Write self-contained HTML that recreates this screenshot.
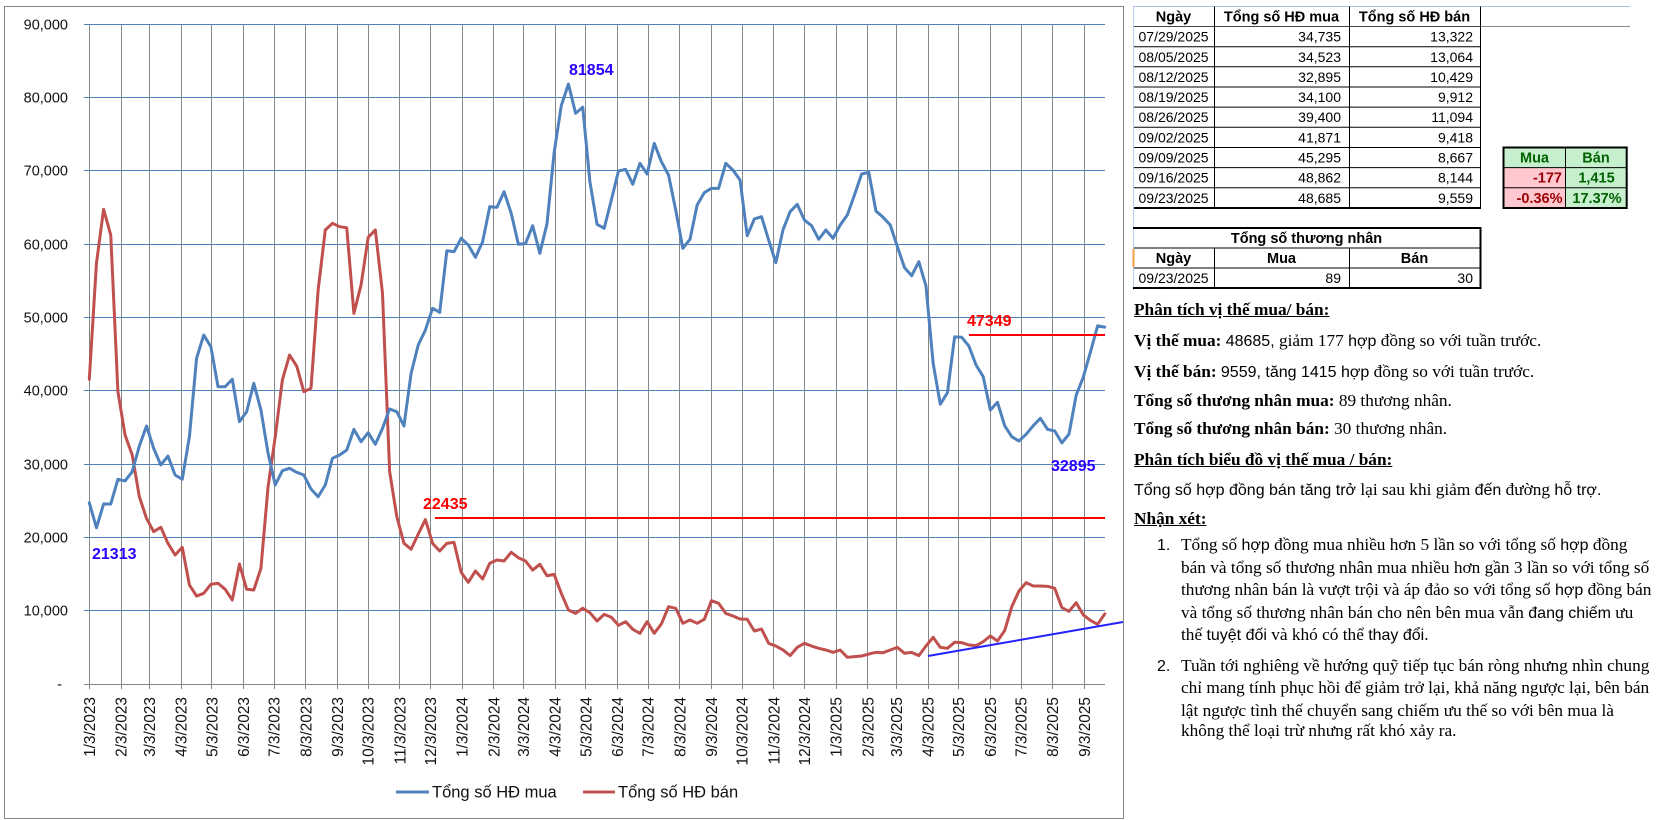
<!DOCTYPE html>
<html>
<head>
<meta charset="utf-8">
<style>
  html,body{margin:0;padding:0;background:#fff;}
  body{width:1668px;height:820px;position:relative;overflow:hidden;}
  svg{position:absolute;left:0;top:0;}
  .t{position:absolute;white-space:nowrap;font-family:"Liberation Serif","DejaVu Serif",serif;font-size:17.3px;line-height:20px;color:#000;}
  .t b{font-weight:bold;}
  .u{text-decoration:underline;font-weight:bold;}
  .s{font-family:"Liberation Sans","DejaVu Sans",sans-serif;font-size:16px;}
</style>
</head>
<body>
<svg width="1668" height="820" viewBox="0 0 1668 820" xmlns="http://www.w3.org/2000/svg">
  <!-- chart frame -->
  <rect x="4.5" y="6.5" width="1119" height="812" fill="#fff" stroke="#868686" stroke-width="1"/>

  <!-- horizontal gridlines -->
  <path d="M84 24.5H1105M84 97.5H1105M84 170.5H1105M84 244.5H1105M84 317.5H1105M84 390.5H1105M84 464.5H1105M84 537.5H1105M84 610.5H1105" stroke="#4F81BD" stroke-width="1" fill="none"/>

  <!-- vertical gridlines -->
  <path d="M89.5 24.3V689M121.5 24.3V689M149.5 24.3V689M181.5 24.3V689M211.5 24.3V689M243.5 24.3V689M274.5 24.3V689M305.5 24.3V689M337.5 24.3V689M368.5 24.3V689M399.5 24.3V689M430.5 24.3V689M462.5 24.3V689M493.5 24.3V689M523.5 24.3V689M555.5 24.3V689M585.5 24.3V689M617.5 24.3V689M648.5 24.3V689M679.5 24.3V689M711.5 24.3V689M742.5 24.3V689M773.5 24.3V689M804.5 24.3V689M836.5 24.3V689M867.5 24.3V689M896.5 24.3V689M928.5 24.3V689M958.5 24.3V689M990.5 24.3V689M1021.5 24.3V689M1052.5 24.3V689M1084.5 24.3V689" stroke="#868686" stroke-width="1" fill="none"/>
  <!-- x axis -->
  <path d="M84 684.5H1105" stroke="#868686" stroke-width="1"/>

  <!-- y labels -->
  <g font-family="'Liberation Sans',Arial,sans-serif" font-size="14.5" fill="#111" text-anchor="end">
    <text x="68" y="29.5">90,000</text>
    <text x="68" y="102.5">80,000</text>
    <text x="68" y="175.5">70,000</text>
    <text x="68" y="249.5">60,000</text>
    <text x="68" y="322.5">50,000</text>
    <text x="68" y="395.5">40,000</text>
    <text x="68" y="469.5">30,000</text>
    <text x="68" y="542.5">20,000</text>
    <text x="68" y="615.5">10,000</text>
    <text x="62" y="689">-</text>
  </g>

  <!-- x labels -->
  <g font-family="'Liberation Sans',Arial,sans-serif" font-size="15.4" fill="#111" text-anchor="end">
    <text transform="translate(94.8,697) rotate(-90)">1/3/2023</text>
    <text transform="translate(126.5,697) rotate(-90)">2/3/2023</text>
    <text transform="translate(155.1,697) rotate(-90)">3/3/2023</text>
    <text transform="translate(186.7,697) rotate(-90)">4/3/2023</text>
    <text transform="translate(217.4,697) rotate(-90)">5/3/2023</text>
    <text transform="translate(249.1,697) rotate(-90)">6/3/2023</text>
    <text transform="translate(279.7,697) rotate(-90)">7/3/2023</text>
    <text transform="translate(311.4,697) rotate(-90)">8/3/2023</text>
    <text transform="translate(343,697) rotate(-90)">9/3/2023</text>
    <text transform="translate(373.7,697) rotate(-90)">10/3/2023</text>
    <text transform="translate(405.4,697) rotate(-90)">11/3/2023</text>
    <text transform="translate(436,697) rotate(-90)">12/3/2023</text>
    <text transform="translate(467.7,697) rotate(-90)">1/3/2024</text>
    <text transform="translate(499.3,697) rotate(-90)">2/3/2024</text>
    <text transform="translate(529,697) rotate(-90)">3/3/2024</text>
    <text transform="translate(560.7,697) rotate(-90)">4/3/2024</text>
    <text transform="translate(591.3,697) rotate(-90)">5/3/2024</text>
    <text transform="translate(623,697) rotate(-90)">6/3/2024</text>
    <text transform="translate(653.6,697) rotate(-90)">7/3/2024</text>
    <text transform="translate(685.3,697) rotate(-90)">8/3/2024</text>
    <text transform="translate(716.9,697) rotate(-90)">9/3/2024</text>
    <text transform="translate(747.6,697) rotate(-90)">10/3/2024</text>
    <text transform="translate(779.3,697) rotate(-90)">11/3/2024</text>
    <text transform="translate(809.9,697) rotate(-90)">12/3/2024</text>
    <text transform="translate(841.6,697) rotate(-90)">1/3/2025</text>
    <text transform="translate(873.3,697) rotate(-90)">2/3/2025</text>
    <text transform="translate(901.8,697) rotate(-90)">3/3/2025</text>
    <text transform="translate(933.5,697) rotate(-90)">4/3/2025</text>
    <text transform="translate(964.2,697) rotate(-90)">5/3/2025</text>
    <text transform="translate(995.8,697) rotate(-90)">6/3/2025</text>
    <text transform="translate(1026.5,697) rotate(-90)">7/3/2025</text>
    <text transform="translate(1058.2,697) rotate(-90)">8/3/2025</text>
    <text transform="translate(1089.8,697) rotate(-90)">9/3/2025</text>
  </g>

  <!-- series -->
  <g transform="translate(89.3,684) scale(7.1512,-0.00733)">
    <polyline vector-effect="non-scaling-stroke" fill="none" stroke="#C0504D" stroke-width="3" stroke-linejoin="round" stroke-linecap="round"
      points="0,41570 1,57390 2,64760 3,61250 4,39880 5,33970 6,31240 7,25550 8,22600 9,20780 10,21380 11,19190 12,17600 13,18650 14,13510 15,12000 16,12370 17,13600 18,13740 19,12920 20,11460 21,16370 22,12920 23,12820 24,15780 25,26920 26,33740 27,41470 28,44880 29,43380 30,39880 31,40340 32,53750 33,61940 34,62850 35,62390 36,62250 37,50570 38,54430 39,60940 40,61940 41,53300 42,28960 43,22830 44,19190 45,18380 46,20460 47,22435 48,19190 49,18140 50,19190 51,19330 52,15240 53,13870 54,15420 55,14320 56,16470 57,16920 58,16780 59,17970 60,17230 61,16780 62,15550 63,16330 64,14770 65,14960 66,12370 67,10100 68,9640 69,10330 70,9730 71,8600 72,9500 73,9100 74,8010 75,8500 76,7460 77,6920 78,8500 79,6920 80,8190 81,10550 82,10330 83,8280 84,8730 85,8280 86,8830 87,11370 88,11010 89,9640 90,9280 91,8870 92,8830 93,7230 94,7500 95,5550 96,5180 97,4640 98,3870 99,5000 100,5550 101,5180 102,4870 103,4640 104,4320 105,4640 106,3640 107,3730 108,3820 109,4090 110,4320 111,4270 112,4640 113,5000 114,4190 115,4320 116,3870 117,5180 118,6370 119,5000 120,4870 121,5690 122,5640 123,5320 124,5230 125,5780 126,6550 127,5870 128,7280 129,10550 130,12690 131,13820 132,13370 133,13370 134,13322 135,13064 136,10429 137,9912 138,11094 139,9418 140,8667 141,8144 142,9559"/>
    <polyline vector-effect="non-scaling-stroke" fill="none" stroke="#4F81BD" stroke-width="3" stroke-linejoin="round" stroke-linecap="round"
      points="0,24734 1,21313 2,24556 3,24556 4,27925 5,27700 6,28970 7,32470 8,35200 9,32150 10,29880 11,31100 12,28510 13,27930 14,33740 15,44430 16,47600 17,46020 18,40560 19,40560 20,41570 21,35790 22,37150 23,41020 24,37380 25,31470 26,27150 27,29100 28,29430 29,28880 30,28510 31,26600 32,25550 33,27150 34,30790 35,31240 36,31920 37,34740 38,33060 39,34290 40,32700 41,34880 42,37520 43,37150 44,35200 45,42380 46,46250 47,48300 48,51250 49,50700 50,59110 51,58980 52,60800 53,59890 54,58210 55,60340 56,65120 57,65030 58,67160 59,64210 60,59990 61,60080 62,62520 63,58760 64,62760 65,72500 66,78900 67,81854 68,77860 69,78680 70,68530 71,62710 72,62170 73,66030 74,69990 75,70210 76,68170 77,71030 78,69580 79,73760 80,71260 81,69440 82,64670 83,59440 84,60670 85,65350 86,67030 87,67620 88,67620 89,71030 90,70120 91,68760 92,61160 93,63440 94,63750 95,60570 96,57480 97,61940 98,64440 99,65440 100,63300 101,62530 102,60670 103,61940 104,60800 105,62620 106,63980 107,66710 108,69580 109,69810 110,64530 111,63670 112,62620 113,59660 114,56800 115,55700 116,57610 117,54300 118,43750 119,38160 120,39740 121,47349 122,47300 123,46110 124,43520 125,41930 126,37380 127,38430 128,35240 129,33740 130,33150 131,34060 132,35240 133,36250 134,34735 135,34523 136,32895 137,34100 138,39400 139,41871 140,45295 141,48862 142,48685"/>
  </g>

  <!-- annotation lines -->
  <path d="M435 518H1105" stroke="#FF0000" stroke-width="2"/>
  <path d="M969 335H1105" stroke="#FF0000" stroke-width="2"/>
  <path d="M928 656L1123 622" stroke="#2222FF" stroke-width="2"/>

  <!-- annotation labels -->
  <g font-family="'Liberation Sans',Arial,sans-serif" font-size="16" font-weight="bold">
    <text x="569" y="75" fill="#2a00ff">81854</text>
    <text x="92" y="559" fill="#2a00ff">21313</text>
    <text x="1051" y="471" fill="#2a00ff">32895</text>
    <text x="423" y="509" fill="#FF0000">22435</text>
    <text x="967" y="326" fill="#FF0000">47349</text>
  </g>

  <!-- legend -->
  <path d="M396 792H429" stroke="#4F81BD" stroke-width="3"/>
  <text x="432" y="797.5" font-family="'Liberation Sans',Arial,sans-serif" font-size="16.5" fill="#111">Tổng số HĐ mua</text>
  <path d="M583 792H615" stroke="#C0504D" stroke-width="3"/>
  <text x="618" y="797.5" font-family="'Liberation Sans',Arial,sans-serif" font-size="16.5" fill="#111">Tổng số HĐ bán</text>

  <!-- ===== Table 1 ===== -->
  <path d="M1133 6.5H1630" stroke="#a9c1e3" stroke-width="1"/>
  <path d="M1133.5 6V290" stroke="#b9cce8" stroke-width="1"/>
  <path d="M1480 26.5H1630" stroke="#8a8a8a" stroke-width="1"/>
  <path d="M1134 26.5H1480" stroke="#444" stroke-width="1"/>
  <path d="M1134 46.7H1480M1134 66.8H1480M1134 87H1480M1134 107.1H1480M1134 127.3H1480M1134 147.5H1480M1134 167.6H1480M1134 187.8H1480" stroke="#000" stroke-width="1"/>
  <path d="M1134 208H1481" stroke="#000" stroke-width="2"/>
  <path d="M1214.5 6.5V208M1349.5 6.5V208M1480.5 6.5V208" stroke="#000" stroke-width="1"/>

  <g font-family="'Liberation Sans',Arial,sans-serif" font-size="14.5" font-weight="bold" fill="#000" text-anchor="middle">
    <text x="1173.5" y="21.5">Ngày</text>
    <text x="1281.5" y="21.5">Tổng số HĐ mua</text>
    <text x="1414.5" y="21.5">Tổng số HĐ bán</text>
  </g>
  <g font-family="'Liberation Sans',Arial,sans-serif" font-size="14" fill="#000">
    <text x="1138.5" y="41.6">07/29/2025</text>
    <text x="1138.5" y="61.8">08/05/2025</text>
    <text x="1138.5" y="81.9">08/12/2025</text>
    <text x="1138.5" y="102.1">08/19/2025</text>
    <text x="1138.5" y="122.2">08/26/2025</text>
    <text x="1138.5" y="142.4">09/02/2025</text>
    <text x="1138.5" y="162.6">09/09/2025</text>
    <text x="1138.5" y="182.7">09/16/2025</text>
    <text x="1138.5" y="202.9">09/23/2025</text>
  </g>
  <g font-family="'Liberation Sans',Arial,sans-serif" font-size="14" fill="#000" text-anchor="end">
    <text x="1341" y="41.6">34,735</text>
    <text x="1341" y="61.8">34,523</text>
    <text x="1341" y="81.9">32,895</text>
    <text x="1341" y="102.1">34,100</text>
    <text x="1341" y="122.2">39,400</text>
    <text x="1341" y="142.4">41,871</text>
    <text x="1341" y="162.6">45,295</text>
    <text x="1341" y="182.7">48,862</text>
    <text x="1341" y="202.9">48,685</text>
    <text x="1473" y="41.6">13,322</text>
    <text x="1473" y="61.8">13,064</text>
    <text x="1473" y="81.9">10,429</text>
    <text x="1473" y="102.1">9,912</text>
    <text x="1473" y="122.2">11,094</text>
    <text x="1473" y="142.4">9,418</text>
    <text x="1473" y="162.6">8,667</text>
    <text x="1473" y="182.7">8,144</text>
    <text x="1473" y="202.9">9,559</text>
  </g>

  <!-- ===== Mua/Bán box ===== -->
  <rect x="1503.5" y="147.5" width="62" height="20.1" fill="#C6EFCE"/>
  <rect x="1565.5" y="147.5" width="61.2" height="20.1" fill="#C6EFCE"/>
  <rect x="1503.5" y="167.6" width="62" height="40.4" fill="#FFC7CE"/>
  <rect x="1565.5" y="167.6" width="61.2" height="40.4" fill="#C6EFCE"/>
  <path d="M1503.5 167.6H1626.7M1503.5 187.8H1626.7M1565.5 147.5V208" stroke="#000" stroke-width="1"/>
  <rect x="1503.5" y="147.5" width="123.2" height="60.5" fill="none" stroke="#000" stroke-width="2"/>
  <g font-family="'Liberation Sans',Arial,sans-serif" font-size="14.5" font-weight="bold">
    <text x="1534.5" y="162.6" fill="#006100" text-anchor="middle">Mua</text>
    <text x="1596" y="162.6" fill="#006100" text-anchor="middle">Bán</text>
    <text x="1562" y="182.7" fill="#9C0006" text-anchor="end">-177</text>
    <text x="1596.5" y="182.7" fill="#006100" text-anchor="middle">1,415</text>
    <text x="1562.5" y="202.9" fill="#9C0006" text-anchor="end">-0.36%</text>
    <text x="1597" y="202.9" fill="#006100" text-anchor="middle">17.37%</text>
  </g>

  <!-- ===== Table 2 ===== -->
  <path d="M1134 248H1480M1134 268H1480" stroke="#000" stroke-width="1"/>
  <path d="M1214.5 248V288M1349.5 248V288" stroke="#000" stroke-width="1"/>
  <path d="M1133 228H1481.5M1133 288H1481.5M1480.5 227V289" stroke="#000" stroke-width="2"/>
  <path d="M1133.5 249V267" stroke="#f0a040" stroke-width="2"/>
  <g font-family="'Liberation Sans',Arial,sans-serif" font-size="14.5" font-weight="bold" fill="#000" text-anchor="middle">
    <text x="1306.5" y="243">Tổng số thương nhân</text>
    <text x="1173.5" y="263">Ngày</text>
    <text x="1281.5" y="263">Mua</text>
    <text x="1414.5" y="263">Bán</text>
  </g>
  <g font-family="'Liberation Sans',Arial,sans-serif" font-size="14" fill="#000">
    <text x="1138.5" y="283">09/23/2025</text>
    <text x="1341" y="283" text-anchor="end">89</text>
    <text x="1473" y="283" text-anchor="end">30</text>
  </g>
</svg>

<!-- Right-hand analysis text -->
<div class="t" style="left:1134px;top:300px;"><span class="u">Phân tích vị thế mua/ bán:</span></div>
<div class="t" style="left:1134px;top:331px;"><b>Vị thế mua:</b> <span class="s">48685,</span> giảm 177 <span class="s">hợp</span> đồng so với tuần trước.</div>
<div class="t" style="left:1134px;top:361.5px;"><b>Vị thế bán:</b> <span class="s">9559, tăng 1415 hợp</span> đồng so với tuần trước.</div>
<div class="t" style="left:1134px;top:391px;"><b>Tổng số thương nhân mua:</b> 89 thương nhân.</div>
<div class="t" style="left:1134px;top:419px;"><b>Tổng số thương nhân bán:</b> 30 thương nhân.</div>
<div class="t" style="left:1134px;top:449.5px;"><span class="u">Phân tích biểu đồ vị thế mua / bán:</span></div>
<div class="t" style="left:1134px;top:480px;"><span class="s">Tổng số hợp đồng bán tăng trở</span> lại sau khi giảm <span class="s">đến</span> đường <span class="s">hỗ trợ.</span></div>
<div class="t" style="left:1134px;top:508.5px;"><span class="u">Nhận xét:</span></div>

<div class="t" style="left:1157px;top:535px;"><span class="s">1.</span></div>
<div class="t" style="left:1181px;top:535px;">Tổng số <span class="s">hợp</span> đồng mua nhiều hơn 5 lần so với tổng số <span class="s">hợp</span> đồng</div>
<div class="t" style="left:1181px;top:557.6px;">bán và tổng số thương nhân mua nhiều hơn gần 3 lần so với tổng số</div>
<div class="t" style="left:1181px;top:580.2px;">thương nhân bán là vượt trội và áp đảo so với tổng số <span class="s">hợp</span> đồng bán</div>
<div class="t" style="left:1181px;top:602.8px;">và tổng số thương nhân bán cho nên bên mua vẫn <span class="s">đang chiếm</span> ưu</div>
<div class="t" style="left:1181px;top:625.4px;">thế <span class="s">tuyệt đối</span> và khó có thể <span class="s">thay đổi</span>.</div>

<div class="t" style="left:1157px;top:655.5px;"><span class="s">2.</span></div>
<div class="t" style="left:1181px;top:655.5px;">Tuần tới nghiêng về hướng quỹ tiếp tục bán ròng nhưng nhìn chung</div>
<div class="t" style="left:1181px;top:678px;">chỉ mang tính phục hồi để giảm trở lại, khả năng ngược lại, bên bán</div>
<div class="t" style="left:1181px;top:700.5px;">lật ngược tình thế chuyển sang chiếm ưu thế so với bên mua là</div>
<div class="t" style="left:1181px;top:721px;">không thể loại trừ nhưng rất khó xảy ra.</div>
</body>
</html>
